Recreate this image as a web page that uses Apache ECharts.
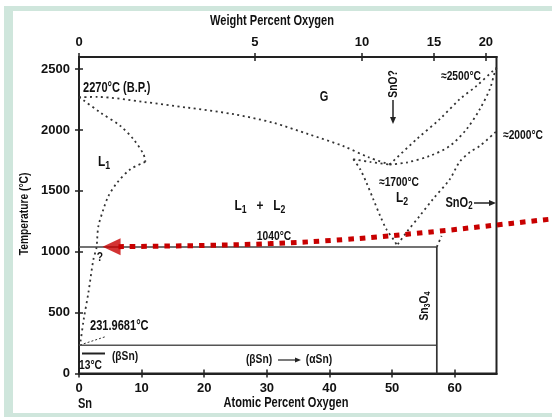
<!DOCTYPE html>
<html><head><meta charset="utf-8">
<script src="https://cdn.jsdelivr.net/npm/echarts@6/dist/echarts.min.js"></script>
<style>html,body{margin:0;padding:0;background:#fff}#c{width:552px;height:417px}</style>
</head><body><div id="c"></div>
<script>
const FONT = "'Liberation Sans','Arial',sans-serif";
const X_MAX = 66.67, T_MAX = 2600;

// tick labels
const atomicTicks = [0, 10, 20, 30, 40, 50, 60];
const tempTicks = [0, 500, 1000, 1500, 2000, 2500];
const weightTicks = [0, 5, 10, 15, 20];

// phase boundaries: [atomic % O, temperature °C]
const gasLiquidus = [[0,2270],[2.9,2272],[10.3,2231],[17.2,2185],[24.7,2130],[31,2060],[36.7,1965],[42.1,1870],[46.3,1775],[49.6,1717]];
const l1Upper = [[0,2270],[0.5,2253],[3.4,2144],[6.6,2034],[8.7,1924],[10.3,1801],[10.6,1738]];
const l1Lower = [[10.6,1738],[8.2,1678],[6.1,1568],[4.7,1458],[3.9,1349],[3.1,1211],[2.9,1102],[2.8,1034],[2.3,937],[1.5,664],[0.75,444],[0.2,252],[0,232]];
const gapTop = [[43.8,1760],[46.5,1738],[49.6,1717]];
const l2Left = [[43.8,1760],[44.9,1678],[45.9,1568],[47.0,1431],[48.1,1294],[49.1,1184],[50.2,1102],[50.7,1061]];
const l2Right = [[50.9,1061],[52.3,1160],[54.4,1294],[56.5,1431],[59.2,1595],[60.8,1740],[62.4,1817],[64.0,1869],[66.67,1990]];
const gasUpperA = [[49.6,1717],[53.9,1924],[57.6,2089],[60.8,2253],[63.5,2363],[66.1,2486],[66.67,2510]];
const gasUpperB = [[49.6,1717],[52.3,1733],[56.0,1787],[59.2,1869],[61.9,2007],[64.0,2171],[65.6,2336],[66.4,2475],[66.67,2510]];
const sn3o4Top = [[57.14,1040],[57.9,1130]];

// invariant lines
const monotecticLine = [[0,1040],[57.14,1040]];
const eutectoidLine = [[0,231.97],[57.14,231.97]];
const sn3o4Line = [[57.14,0],[57.14,1040]];

// highlight arrow (drawn on a second, wider grid with the same scale)
const highlightArrow = [[6.3,1042],[20,1052],[30.5,1067],[42.8,1102],[57.6,1170],[66.1,1217],[76,1272]];
const arrowHead = [[5.2,1042]];

// weight % -> atomic % (Sn-O)
const toAtomic = w => (w/16) / ((w/16) + (100-w)/118.71) * 100;
const toWeight = a => 16*a / (16*a + 118.71*(100-a)) * 100;
const weightPos = weightTicks.map(toAtomic);

const chart = echarts.init(document.getElementById('c'), null, {renderer:'canvas'});

const GL = 79, GR = 55.5, GT = 57, GB = 43.5, W = 552;
const pxPerUnit = (W - GL - GR) / X_MAX;
const X_MAX2 = (W - GL) / pxPerUnit;

const axisLabelStyle = {fontSize:13, fontWeight:'bold', fontFamily:FONT, color:'#111', formatter:v=>String(v)};
const lineAx = {lineStyle:{color:'#222', width:2}};
const tickStyle = {color:'#222', width:1.5};

function dotted(data){
  return {type:'line', data, xAxisIndex:0, yAxisIndex:0, smooth:0.3, symbol:'none', silent:true,
    lineStyle:{color:'#333', width:1.8, type:[2,3.5]}};
}
function solid(data, w, c){
  return {type:'line', data, xAxisIndex:0, yAxisIndex:0, symbol:'none', silent:true,
    lineStyle:{color:c, width:w}};
}
function txt(x, y, text, size, opts, align){
  const s = size || 14;
  return Object.assign({type:'text', x, y, z:50, scaleX:0.79, style:{text, fill:'#111',
    font: 'bold '+s+'px '+FONT, align:align||'center', verticalAlign:'middle',
    rich:{
      m:{fontSize:s, fontWeight:'bold', fontFamily:FONT, color:'#111'},
      s:{fontSize:Math.round(s*0.72), fontWeight:'bold', fontFamily:FONT, color:'#111', padding:[7,0,0,0]}
    }}}, opts||{});
}
const teal = '#cfe6dc';

const option = {
  animation:false,
  backgroundColor:'#ffffff',
  grid:[
    {left:GL, right:GR, top:GT, bottom:GB, show:true, borderColor:'#222', borderWidth:2},
    {left:GL, right:0, top:GT, bottom:GB, show:false}
  ],
  xAxis:[
    {type:'value', position:'bottom', min:0, max:X_MAX, axisLine:lineAx, splitLine:{show:false},
     axisTick:{customValues:atomicTicks, length:4, lineStyle:tickStyle},
     axisLabel:Object.assign({customValues:atomicTicks, margin:8}, axisLabelStyle)},
    {type:'value', position:'bottom', min:0, max:X_MAX, axisLine:lineAx, splitLine:{show:false},
     axisTick:{customValues:atomicTicks, length:4, inside:true, lineStyle:tickStyle},
     axisLabel:{show:false}},
    {type:'value', position:'top', min:0, max:X_MAX, axisLine:lineAx, splitLine:{show:false},
     axisTick:{customValues:weightPos, length:4, lineStyle:tickStyle},
     axisLabel:Object.assign({}, axisLabelStyle, {customValues:weightPos, margin:8, formatter:v=>String(Math.round(toWeight(v)))})},
    {type:'value', position:'top', min:0, max:X_MAX, axisLine:lineAx, splitLine:{show:false},
     axisTick:{customValues:weightPos, length:4, inside:true, lineStyle:tickStyle},
     axisLabel:{show:false}},
    {type:'value', gridIndex:1, min:0, max:X_MAX2, show:false}
  ],
  yAxis:[
    {type:'value', position:'left', min:0, max:T_MAX, axisLine:lineAx, splitLine:{show:false},
     axisTick:{customValues:tempTicks, length:4, lineStyle:tickStyle},
     axisLabel:Object.assign({customValues:tempTicks, margin:9}, axisLabelStyle)},
    {type:'value', position:'left', min:0, max:T_MAX, axisLine:lineAx, splitLine:{show:false},
     axisTick:{customValues:tempTicks, length:4, inside:true, lineStyle:tickStyle},
     axisLabel:{show:false}},
    {type:'value', gridIndex:1, min:0, max:T_MAX, show:false}
  ],
  series:[
    solid(monotecticLine, 1.5, '#444'),
    solid(eutectoidLine, 1.3, '#555'),
    solid(sn3o4Line, 1.7, '#333'),
    dotted(gasLiquidus), dotted(l1Upper), dotted(l1Lower), dotted(gapTop),
    dotted(l2Left), dotted(l2Right), dotted(gasUpperA), dotted(gasUpperB), dotted(sn3o4Top),
    {type:'line', data:highlightArrow, xAxisIndex:4, yAxisIndex:2, smooth:0.4, symbol:'none', clip:false, silent:true, z:10,
     lineStyle:{color:'#c80000', width:5, type:[5.5,6], cap:'butt'}},
    {type:'scatter', data:arrowHead, xAxisIndex:4, yAxisIndex:2, symbol:'triangle', symbolSize:[17,18], symbolRotate:90, clip:false, silent:true, z:10,
     itemStyle:{color:'#c80000'}}
  ],
  graphic:[
    {type:'rect', z:-10, shape:{x:4,y:6,width:548,height:5}, style:{fill:teal}},
    {type:'rect', z:-10, shape:{x:4,y:6,width:9,height:411}, style:{fill:teal}},
    {type:'rect', z:-10, shape:{x:4,y:413,width:548,height:4}, style:{fill:teal}},
    txt(272, 21, 'Weight Percent Oxygen', 14),
    txt(286, 403, 'Atomic Percent Oxygen', 14),
    txt(85, 404, 'Sn', 14),
    txt(24, 214, 'Temperature (°C)', 13, {rotation:Math.PI/2}),
    txt(83, 88, '2270°C (B.P.)', 14, null, 'left'),
    txt(324, 97, 'G', 14),
    txt(104, 162, '{m|L}{s|1}', 15),
    txt(260, 206, '{m|L}{s|1}{m|   +   L}{s|2}', 15),
    txt(274, 236, '1040°C', 13),
    txt(399, 182, '≈1700°C', 13),
    txt(402, 198, '{m|L}{s|2}', 15),
    txt(459, 203, '{m|SnO}{s|2}', 14),
    txt(461, 76, '≈2500°C', 13),
    txt(523, 135, '≈2000°C', 13),
    txt(393, 84, 'SnO?', 13, {rotation:Math.PI/2}),
    txt(424, 306, '{m|Sn}{s|3}{m|O}{s|4}', 13, {rotation:Math.PI/2}),
    txt(90, 326, '231.9681°C', 14, null, 'left'),
    txt(125, 356, '(βSn)', 13),
    txt(79, 365, '13°C', 13, null, 'left'),
    txt(259, 359, '(βSn)', 13),
    txt(319, 359, '(αSn)', 13),
    txt(100, 257, '?', 13),
    {type:'line', shape:{x1:393,y1:100,x2:393,y2:119}, style:{stroke:'#222', lineWidth:1.5}},
    {type:'polygon', shape:{points:[[390,117],[396,117],[393,124]]}, style:{fill:'#222'}},
    {type:'line', shape:{x1:474,y1:203,x2:490,y2:203}, style:{stroke:'#222', lineWidth:1.5}},
    {type:'polygon', shape:{points:[[489,200],[489,206],[496,203]]}, style:{fill:'#222'}},
    {type:'line', shape:{x1:278,y1:360,x2:296,y2:360}, style:{stroke:'#222', lineWidth:1.2}},
    {type:'polygon', shape:{points:[[295,357.5],[295,362.5],[301,360]]}, style:{fill:'#222'}},
    {type:'line', shape:{x1:82,y1:353.5,x2:105,y2:353.5}, style:{stroke:'#222', lineWidth:2}},
    {type:'line', shape:{x1:80,y1:345,x2:106,y2:336.5}, style:{stroke:'#333', lineWidth:1, lineDash:[2,2]}}
  ]
};
chart.setOption(option);
</script></body></html>
